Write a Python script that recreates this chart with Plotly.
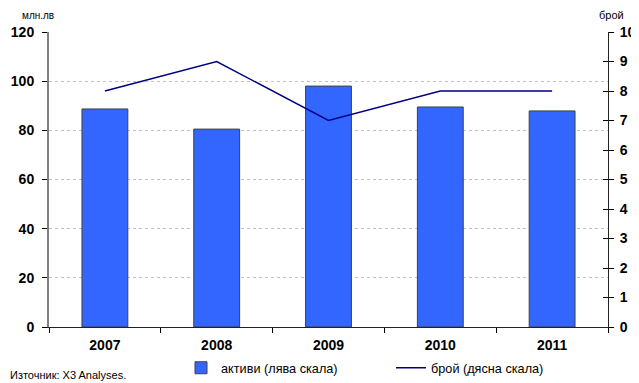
import plotly.graph_objects as go

years = ["2007", "2008", "2009", "2010", "2011"]
assets = [88.7, 80.5, 98.0, 89.5, 87.9]
counts = [8, 9, 7, 8, 8]
left_ticks = [0, 20, 40, 60, 80, 100, 120]
right_ticks = [0, 1, 2, 3, 4, 5, 6, 7, 8, 9, 10]

FONT = "Liberation Sans, Arial, sans-serif"
TICKFONT = dict(family=FONT, size=14, color="black", weight="bold")

W, H = 631, 375  # page has an 8px body margin

fig = go.Figure()
fig.add_trace(go.Bar(
    x=years, y=assets, name="активи (лява скала)",
    marker=dict(color="#3366FF", line=dict(color="#404040", width=1)),
    width=0.41,
))
fig.add_trace(go.Scatter(
    x=years, y=counts, name="брой (дясна скала)", yaxis="y2",
    mode="lines", line=dict(color="#000080", width=1.5),
))
# invisible trace for crossing ticks on right axis
fig.add_trace(go.Scatter(x=years, y=counts, yaxis="y3", mode="lines",
                         line=dict(width=0), showlegend=False, hoverinfo="skip"))

fig.update_layout(
    width=W, height=H,
    margin=dict(l=41, r=31, t=24, b=56),
    paper_bgcolor="white", plot_bgcolor="white",
    font=dict(family=FONT, size=12, color="black"),
    xaxis=dict(
        type="category", tickson="boundaries", ticks="outside", ticklen=5,
        tickcolor="black", showline=True, linecolor="#222222", linewidth=1,
        tickfont=TICKFONT, showgrid=False, zeroline=False, automargin=False,
        ticklabelstandoff=5,
    ),
    yaxis=dict(
        range=[0, 120], tickvals=left_ticks, ticks="outside", ticklen=5,
        tickcolor="black", showline=True, linecolor="#808080", linewidth=2,
        tickfont=TICKFONT, automargin=False, ticklabelstandoff=5,
        showgrid=True, gridcolor="#C0C0C0", griddash="dot", gridwidth=1,
        zeroline=False,
    ),
    yaxis2=dict(
        range=[0, 10], tickvals=right_ticks, overlaying="y", side="right",
        ticks="outside", ticklen=5, tickcolor="black", automargin=False,
        showline=True, linecolor="#222222", linewidth=1, ticklabelstandoff=3,
        tickfont=TICKFONT, showgrid=False, zeroline=False,
    ),
    yaxis3=dict(
        range=[0, 10], tickvals=right_ticks, overlaying="y", side="right",
        ticks="inside", ticklen=5, tickcolor="black", showticklabels=False,
        showline=False, showgrid=False, zeroline=False, automargin=False,
    ),
    legend=dict(
        orientation="h", xref="container", yref="container",
        x=173 / W, xanchor="left", y=1 - 360 / H, yanchor="middle",
        font=dict(family=FONT, size=12.7, color="black"),
        entrywidth=165, itemwidth=30, bgcolor="rgba(0,0,0,0)",
        tracegroupgap=0,
    ),
    showlegend=True,
    annotations=[
        dict(text="млн.лв", xref="paper", yref="paper", x=0, y=1, xshift=-29, yshift=9,
             xanchor="left", yanchor="bottom", showarrow=False,
             font=dict(family=FONT, size=10, color="black")),
        dict(text="брой", xref="paper", yref="paper", x=1, y=1, xshift=-11, yshift=9,
             xanchor="left", yanchor="bottom", showarrow=False,
             font=dict(family=FONT, size=11, color="black")),
        dict(text="Източник: X3 Analyses.", xref="paper", yref="paper",
             x=0, y=0, xshift=-41, yshift=-48, xanchor="left", yanchor="middle",
             showarrow=False, font=dict(family=FONT, size=11, color="black")),
    ],
)

fig.write_html("out.html")
